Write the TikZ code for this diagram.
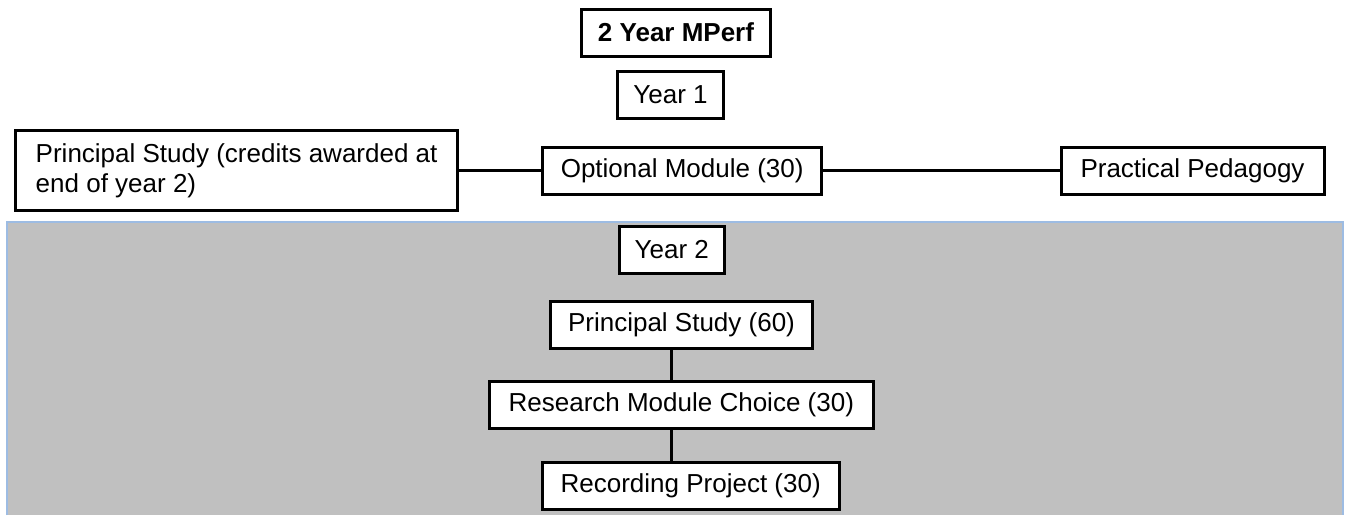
\documentclass[tikz,border=0pt]{standalone}
\usepackage{fontspec}
\setmainfont{Liberation Sans}
\definecolor{paneGray}{HTML}{C0C0C0}
\definecolor{paneEdge}{HTML}{9DBCE3}
\begin{document}
\begin{tikzpicture}[x=1pt,y=1pt,
  box/.style={draw,line width=3pt,fill=white,inner sep=0pt,minimum height=47,
    font=\fontsize{26}{30}\selectfont},
  link/.style={line width=3pt}]
\useasboundingbox (0,0) rectangle (1346,-515);
\fill [paneGray] (7,-222) rectangle (1343,-515);
\draw [paneEdge, line width=1.4pt] (7,-515) -- (7,-222) -- (1343,-222) -- (1343,-515);

\node [box, minimum width=189, font=\fontsize{26}{30}\selectfont\bfseries] (mperf) at (676,-32.5) {2 Year MPerf};
\node [box, minimum width=106] (yearone) at (670.5,-95) {Year 1};
\node [box, minimum width=442, minimum height=80, align=left] (psone) at (236.6,-170.5)
  {Principal Study (credits awarded at\\end of year 2)};
\node [box, minimum width=279] (optmod) at (682.2,-170.5) {Optional Module (30)};
\node [box, minimum width=263] (pedagogy) at (1192.5,-170.5) {Practical Pedagogy};

\node [box, minimum width=105] (yeartwo) at (671.8,-250) {Year 2};
\node [box, minimum width=262] (psix) at (681.5,-325) {Principal Study (60)};
\node [box, minimum width=384] (research) at (681.3,-404.7) {Research Module Choice (30)};
\node [box, minimum width=297] (recording) at (690.7,-485.5) {Recording Project (30)};

\draw [link] (psone.east) -- (optmod.west);
\draw [link] (optmod.east) -- (pedagogy.west);
\draw [link] (psix.south -| yeartwo.center) -- (research.north -| yeartwo.center);
\draw [link] (research.south -| yeartwo.center) -- (recording.north -| yeartwo.center);
\end{tikzpicture}
\end{document}
